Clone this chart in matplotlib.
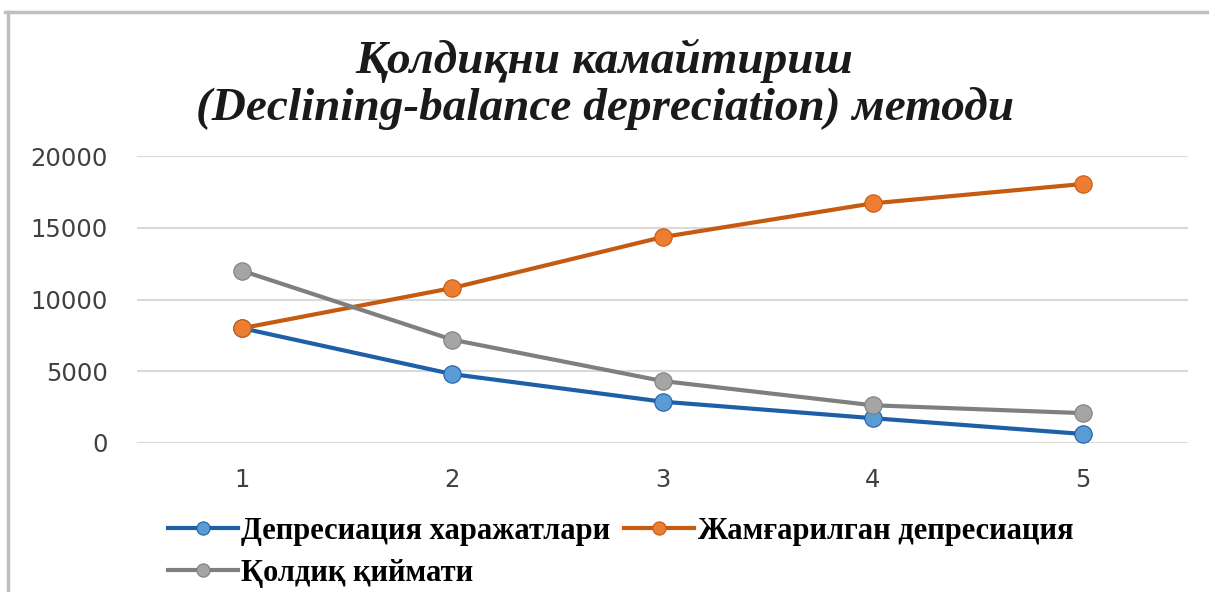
import matplotlib.pyplot as plt
from matplotlib.lines import Line2D

years = [1, 2, 3, 4, 5]
depreciation = [8000, 4800, 2880, 1730, 630]
accumulated = [8000, 10800, 14350, 16700, 18050]
residual = [12000, 7200, 4320, 2630, 2080]
labels = ['Депресиация харажатлари', 'Жамғарилган депресиация', 'Қолдиқ қиймати']
title = 'Қолдиқни камайтириш\n(Declining-balance depreciation) методи'

line_cols = ['#1f5fa8', '#c55a11', '#7f7f7f']
mark_cols = ['#5b9bd5', '#ed7d31', '#a5a5a5']

fig = plt.figure(figsize=(12.09, 5.92), dpi=100)
ax = fig.add_axes([137/1209, 1 - 443/592, 1051/1209, 287/592])

for ys, lc, mc, lab in zip([depreciation, accumulated, residual], line_cols, mark_cols, labels):
    ax.plot(years, ys, '-', color=lc, lw=3, marker='o', ms=12.5,
            mfc=mc, mec=lc, mew=0.8, label=lab, solid_capstyle='round')

ax.set_xlim(0.5, 5.5)
ax.set_ylim(0, 20000)
ax.set_yticks([0, 5000, 10000, 15000, 20000])
ax.set_xticks(years)
ax.grid(axis='y', color='#d9d9d9', lw=1.5)
ax.set_axisbelow(True)
for s in ax.spines.values():
    s.set_visible(False)
ax.tick_params(length=0, labelsize=17.5, labelcolor='#404040')
ax.tick_params(axis='y', pad=21)
ax.tick_params(axis='x', pad=18)

fig.text(0.5, 1 - 84/592, title, ha='center', va='center', fontsize=34,
         family='Liberation Serif', style='italic', weight='bold',
         linespacing=1.12, color='#1a1a1a')

# legend, two rows
handles = [Line2D([], [], color=lc, lw=3, marker='o', ms=9.5, mfc=mc, mec=lc, mew=0.8)
           for lc, mc in zip(line_cols, mark_cols)]
leg_font = dict(family='Liberation Serif', weight='bold', size=22)
fig.legend(handles[:2], labels[:2], loc='center left', bbox_to_anchor=(168/1209, 1 - 531/592),
           ncol=2, frameon=False, prop=leg_font, handlelength=2.3, handletextpad=0.1,
           columnspacing=0.45, borderaxespad=0, borderpad=0)
fig.legend(handles[2:], labels[2:], loc='center left', bbox_to_anchor=(168/1209, 1 - 573/592),
           frameon=False, prop=leg_font, handlelength=2.3, handletextpad=0.1,
           borderaxespad=0, borderpad=0)

# outer chart border
fig.add_artist(Line2D([5/1209, 1], [1 - 12/592, 1 - 12/592], color='#bfbfbf', lw=2.5))
fig.add_artist(Line2D([8/1209, 8/1209], [0, 1 - 12/592], color='#bfbfbf', lw=2.5))

fig.savefig('out.png', dpi=100)
